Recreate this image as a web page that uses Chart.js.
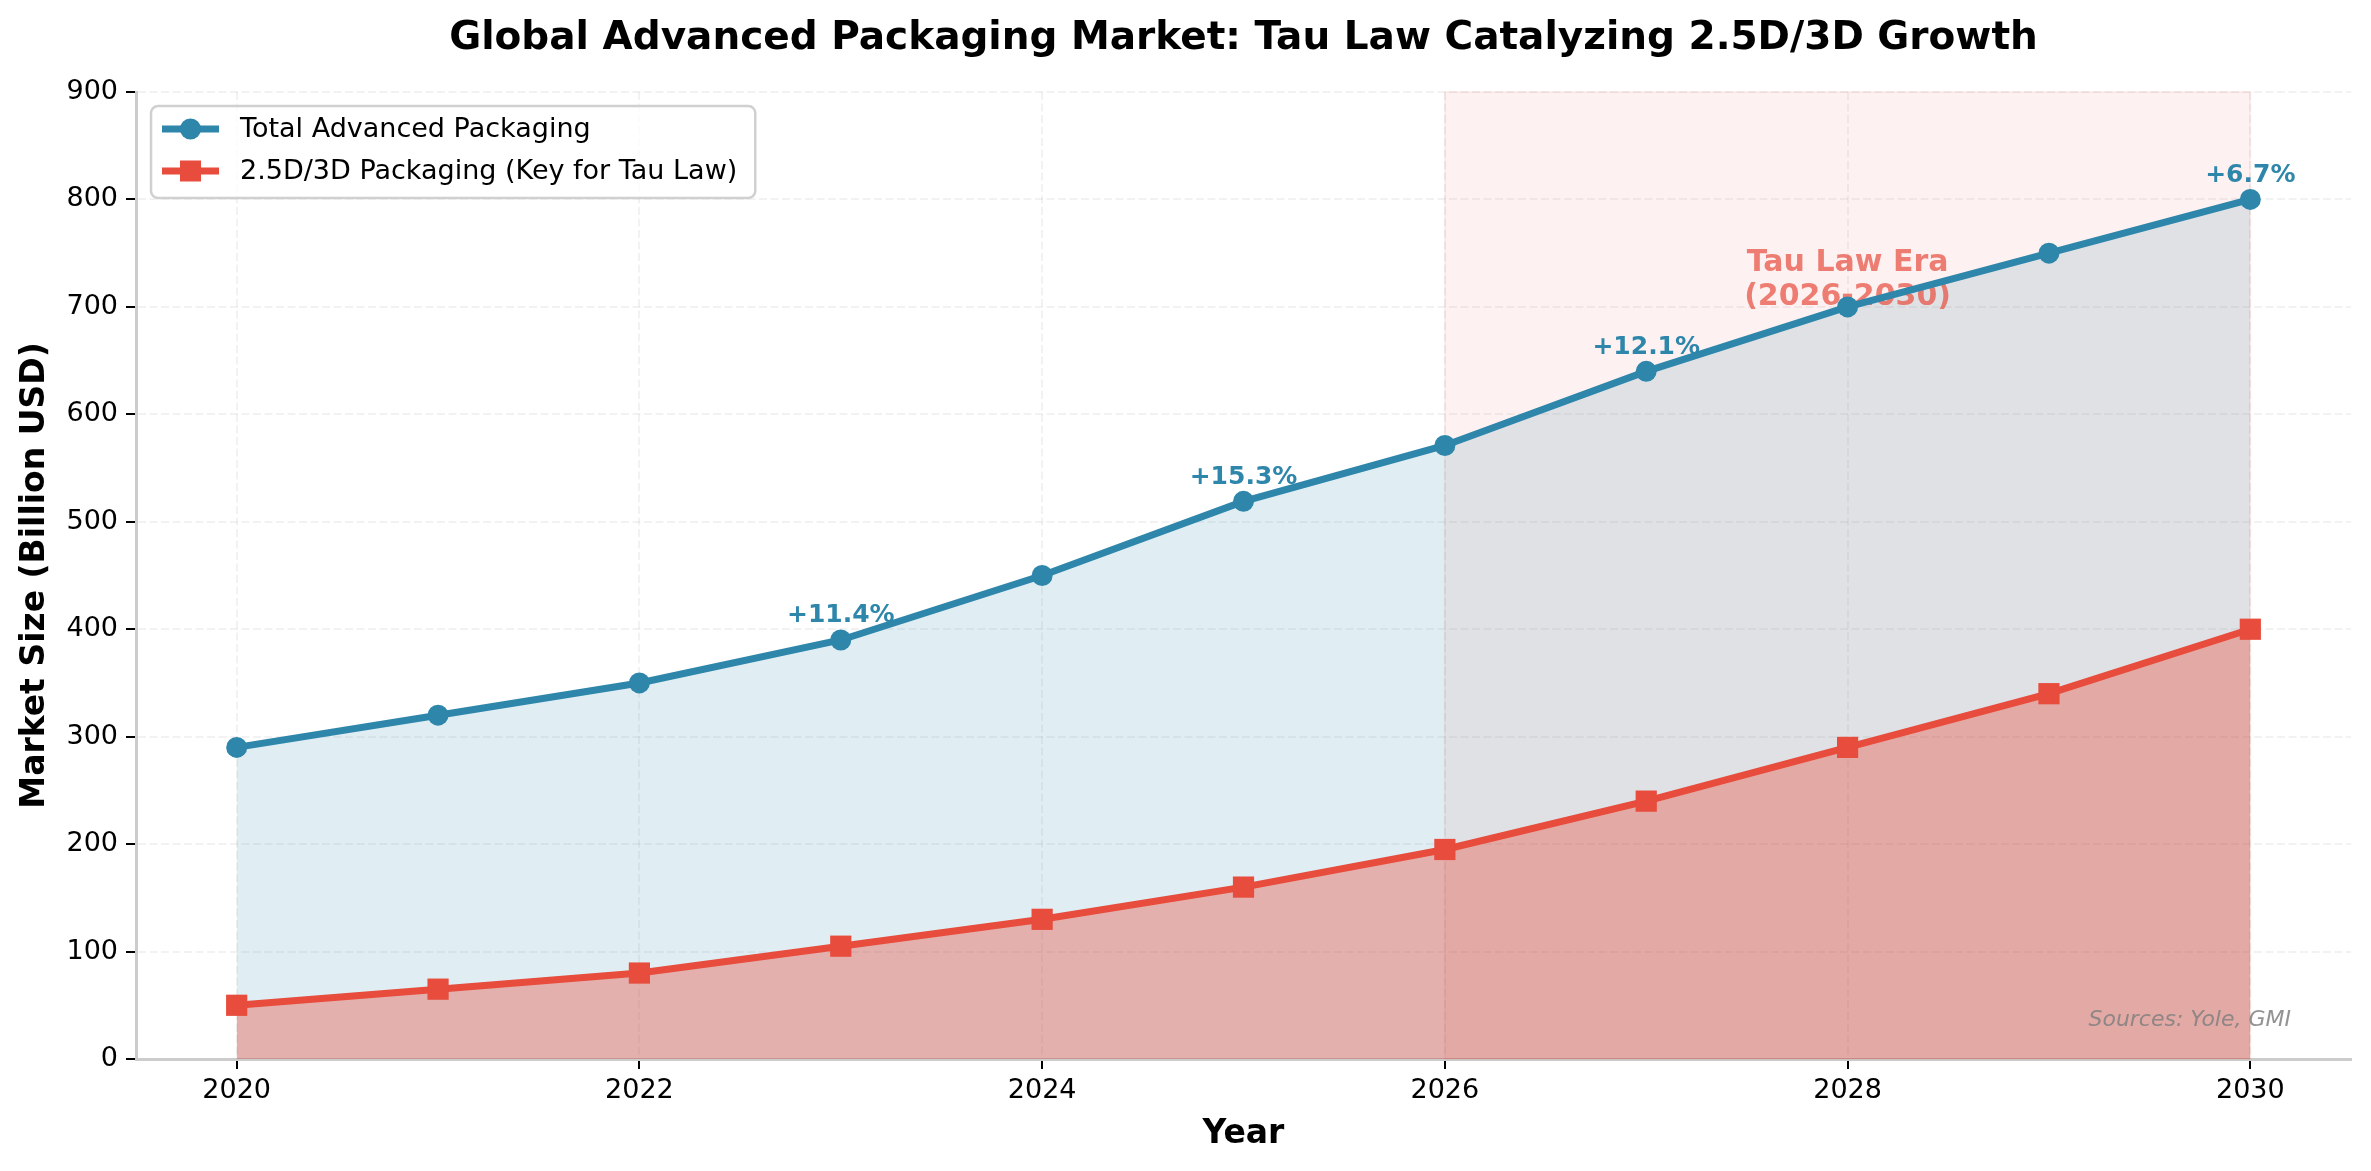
<!DOCTYPE html>
<html>
<head>
<meta charset="utf-8">
<title>Global Advanced Packaging Market</title>
<script src="https://cdn.jsdelivr.net/npm/chart.js@4.4.1/dist/chart.umd.min.js"></script>
<style>
  html, body { margin: 0; padding: 0; background: #ffffff; }
  #wrap { width: 2371px; height: 1171px; }
</style>
</head>
<body>
<div id="wrap"><canvas id="packagingChart" width="2371" height="1171"></canvas></div>
<script>
// Values (Billion USD)
const years = [2020, 2021, 2022, 2023, 2024, 2025, 2026, 2027, 2028, 2029, 2030];
const totalPackaging = [290, 320, 350, 390, 450, 519, 571, 640, 700, 750, 800];
const advanced3D = [50, 65, 80, 105, 130, 160, 195, 240, 290, 340, 400];
const growthLabelYears = [2023, 2025, 2027, 2030];
const xTickValues = [2020, 2022, 2024, 2026, 2028, 2030];
const yTickValues = [0, 100, 200, 300, 400, 500, 600, 700, 800, 900];
const tauEra = [2026, 2030];

const BLUE = '#2E86AB';
const RED = '#E74C3C';
const FONT = "'DejaVu Sans', sans-serif";

// Band, era label, growth labels, source note and a matplotlib-like legend
const decorations = {
  id: 'decorations',
  beforeDatasetsDraw(chart) {
    const { ctx, chartArea: a, scales: { x, y } } = chart;
    const x0 = x.getPixelForValue(tauEra[0]);
    const x1 = x.getPixelForValue(tauEra[1]);
    ctx.save();
    ctx.fillStyle = 'rgba(231,76,60,0.07)';
    ctx.fillRect(x0, a.top, x1 - x0, a.bottom - a.top);
    ctx.strokeStyle = 'rgba(231,76,60,0.07)';
    ctx.lineWidth = 2;
    ctx.strokeRect(x0, a.top, x1 - x0, a.bottom - a.top);

    ctx.fillStyle = 'rgba(231,76,60,0.7)';
    ctx.font = 'bold 30px ' + FONT;
    ctx.textAlign = 'center';
    ctx.textBaseline = 'middle';
    const cx = x.getPixelForValue(2028);
    const cy = y.getPixelForValue(725);
    ctx.fillText('Tau Law Era', cx, cy - 17);
    ctx.fillText('(' + tauEra[0] + '-' + tauEra[1] + ')', cx, cy + 17);
    ctx.restore();
  },
  afterDatasetsDraw(chart) {
    const { ctx, chartArea: a, scales: { x, y } } = chart;
    ctx.save();
    ctx.fillStyle = BLUE;
    ctx.font = 'bold 25px ' + FONT;
    ctx.textAlign = 'center';
    ctx.textBaseline = 'middle';
    growthLabelYears.forEach(yr => {
      const i = years.indexOf(yr);
      const pct = (totalPackaging[i] / totalPackaging[i - 1] - 1) * 100;
      ctx.fillText('+' + pct.toFixed(1) + '%', x.getPixelForValue(yr), y.getPixelForValue(totalPackaging[i]) - 24);
    });

    ctx.fillStyle = 'rgba(128,128,128,0.85)';
    ctx.font = 'italic 22px ' + FONT;
    ctx.textAlign = 'right';
    ctx.fillText('Sources: Yole, GMI', a.right - 60, a.bottom - 39);
    ctx.restore();
  },
  afterDraw(chart) {
    const { ctx, chartArea: a } = chart;
    const ds = chart.data.datasets;
    const lx = a.left + 15, ly = a.top + 14;
    ctx.save();
    ctx.font = '27px ' + FONT;
    const textW = Math.max(...ds.map(d => ctx.measureText(d.label).width));
    const lw = 89 + textW + 18, lh = 92;
    ctx.beginPath();
    ctx.roundRect(lx, ly, lw, lh, 7);
    ctx.fillStyle = 'rgba(255,255,255,0.8)';
    ctx.fill();
    ctx.strokeStyle = '#d0d0d0';
    ctx.lineWidth = 2.5;
    ctx.stroke();

    ds.forEach((d, i) => {
      const cy = ly + 23 + i * 42;
      ctx.strokeStyle = d.borderColor;
      ctx.lineWidth = 7;
      ctx.beginPath();
      ctx.moveTo(lx + 11, cy);
      ctx.lineTo(lx + 68, cy);
      ctx.stroke();
      ctx.fillStyle = d.borderColor;
      if (d.pointStyle === 'rect') {
        ctx.fillRect(lx + 39.5 - 10.5, cy - 10.5, 21, 21);
      } else {
        ctx.beginPath();
        ctx.arc(lx + 39.5, cy, 10.5, 0, Math.PI * 2);
        ctx.fill();
      }
      ctx.fillStyle = '#000';
      ctx.textAlign = 'left';
      ctx.textBaseline = 'middle';
      ctx.fillText(d.label, lx + 89, cy + 1);
    });
    ctx.restore();
  }
};

const gridStyle = {
  color: 'rgba(176,176,176,0.16)',
  lineWidth: 2,
  tickLength: 10,
  tickColor: '#000',
  tickWidth: 2
};
const borderStyle = { color: '#cccccc', width: 3, dash: [8, 3.5] };

new Chart(document.getElementById('packagingChart'), {
  type: 'line',
  data: {
    datasets: [
      {
        label: 'Total Advanced Packaging',
        data: years.map((yr, i) => ({ x: yr, y: totalPackaging[i] })),
        borderColor: BLUE,
        backgroundColor: 'rgba(46,134,171,0.15)',
        fill: 'origin',
        borderWidth: 7,
        tension: 0,
        pointStyle: 'circle',
        pointRadius: 10.5,
        pointHoverRadius: 10.5,
        pointBackgroundColor: BLUE,
        pointBorderColor: BLUE,
        pointBorderWidth: 0,
        order: 2
      },
      {
        label: '2.5D/3D Packaging (Key for Tau Law)',
        data: years.map((yr, i) => ({ x: yr, y: advanced3D[i] })),
        borderColor: RED,
        backgroundColor: 'rgba(231,76,60,0.38)',
        fill: 'origin',
        borderWidth: 7,
        tension: 0,
        pointStyle: 'rect',
        pointRadius: 15,
        pointHoverRadius: 15,
        pointBackgroundColor: RED,
        pointBorderColor: RED,
        pointBorderWidth: 0,
        order: 1
      }
    ]
  },
  options: {
    responsive: false,
    animation: false,
    devicePixelRatio: 1,
    layout: { padding: { right: 20 } },
    plugins: {
      legend: { display: false },
      tooltip: { enabled: false },
      filler: { drawTime: 'beforeDatasetsDraw' },
      title: {
        display: true,
        fullSize: false,
        text: 'Global Advanced Packaging Market: Tau Law Catalyzing 2.5D/3D Growth',
        color: '#000',
        font: { family: FONT, size: 39, weight: 'bold' },
        padding: { top: 15.6, bottom: 29.6 }
      }
    },
    scales: {
      x: {
        type: 'linear',
        min: 2019.5,
        max: 2030.5,
        afterBuildTicks: s => { s.ticks = xTickValues.map(v => ({ value: v })); },
        afterFit: s => { s.height = 112; },
        ticks: {
          callback: v => String(v),
          color: '#000',
          font: { family: FONT, size: 27 },
          padding: 6,
          maxRotation: 0,
          autoSkip: false
        },
        grid: gridStyle,
        border: borderStyle,
        title: {
          display: true,
          text: 'Year',
          color: '#000',
          font: { family: FONT, size: 33, weight: 'bold' },
          padding: { top: 0, bottom: 17 }
        }
      },
      y: {
        min: 0,
        max: 900,
        afterBuildTicks: s => { s.ticks = yTickValues.map(v => ({ value: v })); },
        afterFit: s => { s.width = 136; },
        ticks: {
          color: '#000',
          font: { family: FONT, size: 27 },
          padding: 8
        },
        grid: gridStyle,
        border: borderStyle,
        title: {
          display: true,
          text: 'Market Size (Billion USD)',
          color: '#000',
          font: { family: FONT, size: 33, weight: 'bold' },
          padding: { top: 16, bottom: 0 }
        }
      }
    }
  },
  plugins: [decorations]
});
</script>
</body>
</html>
